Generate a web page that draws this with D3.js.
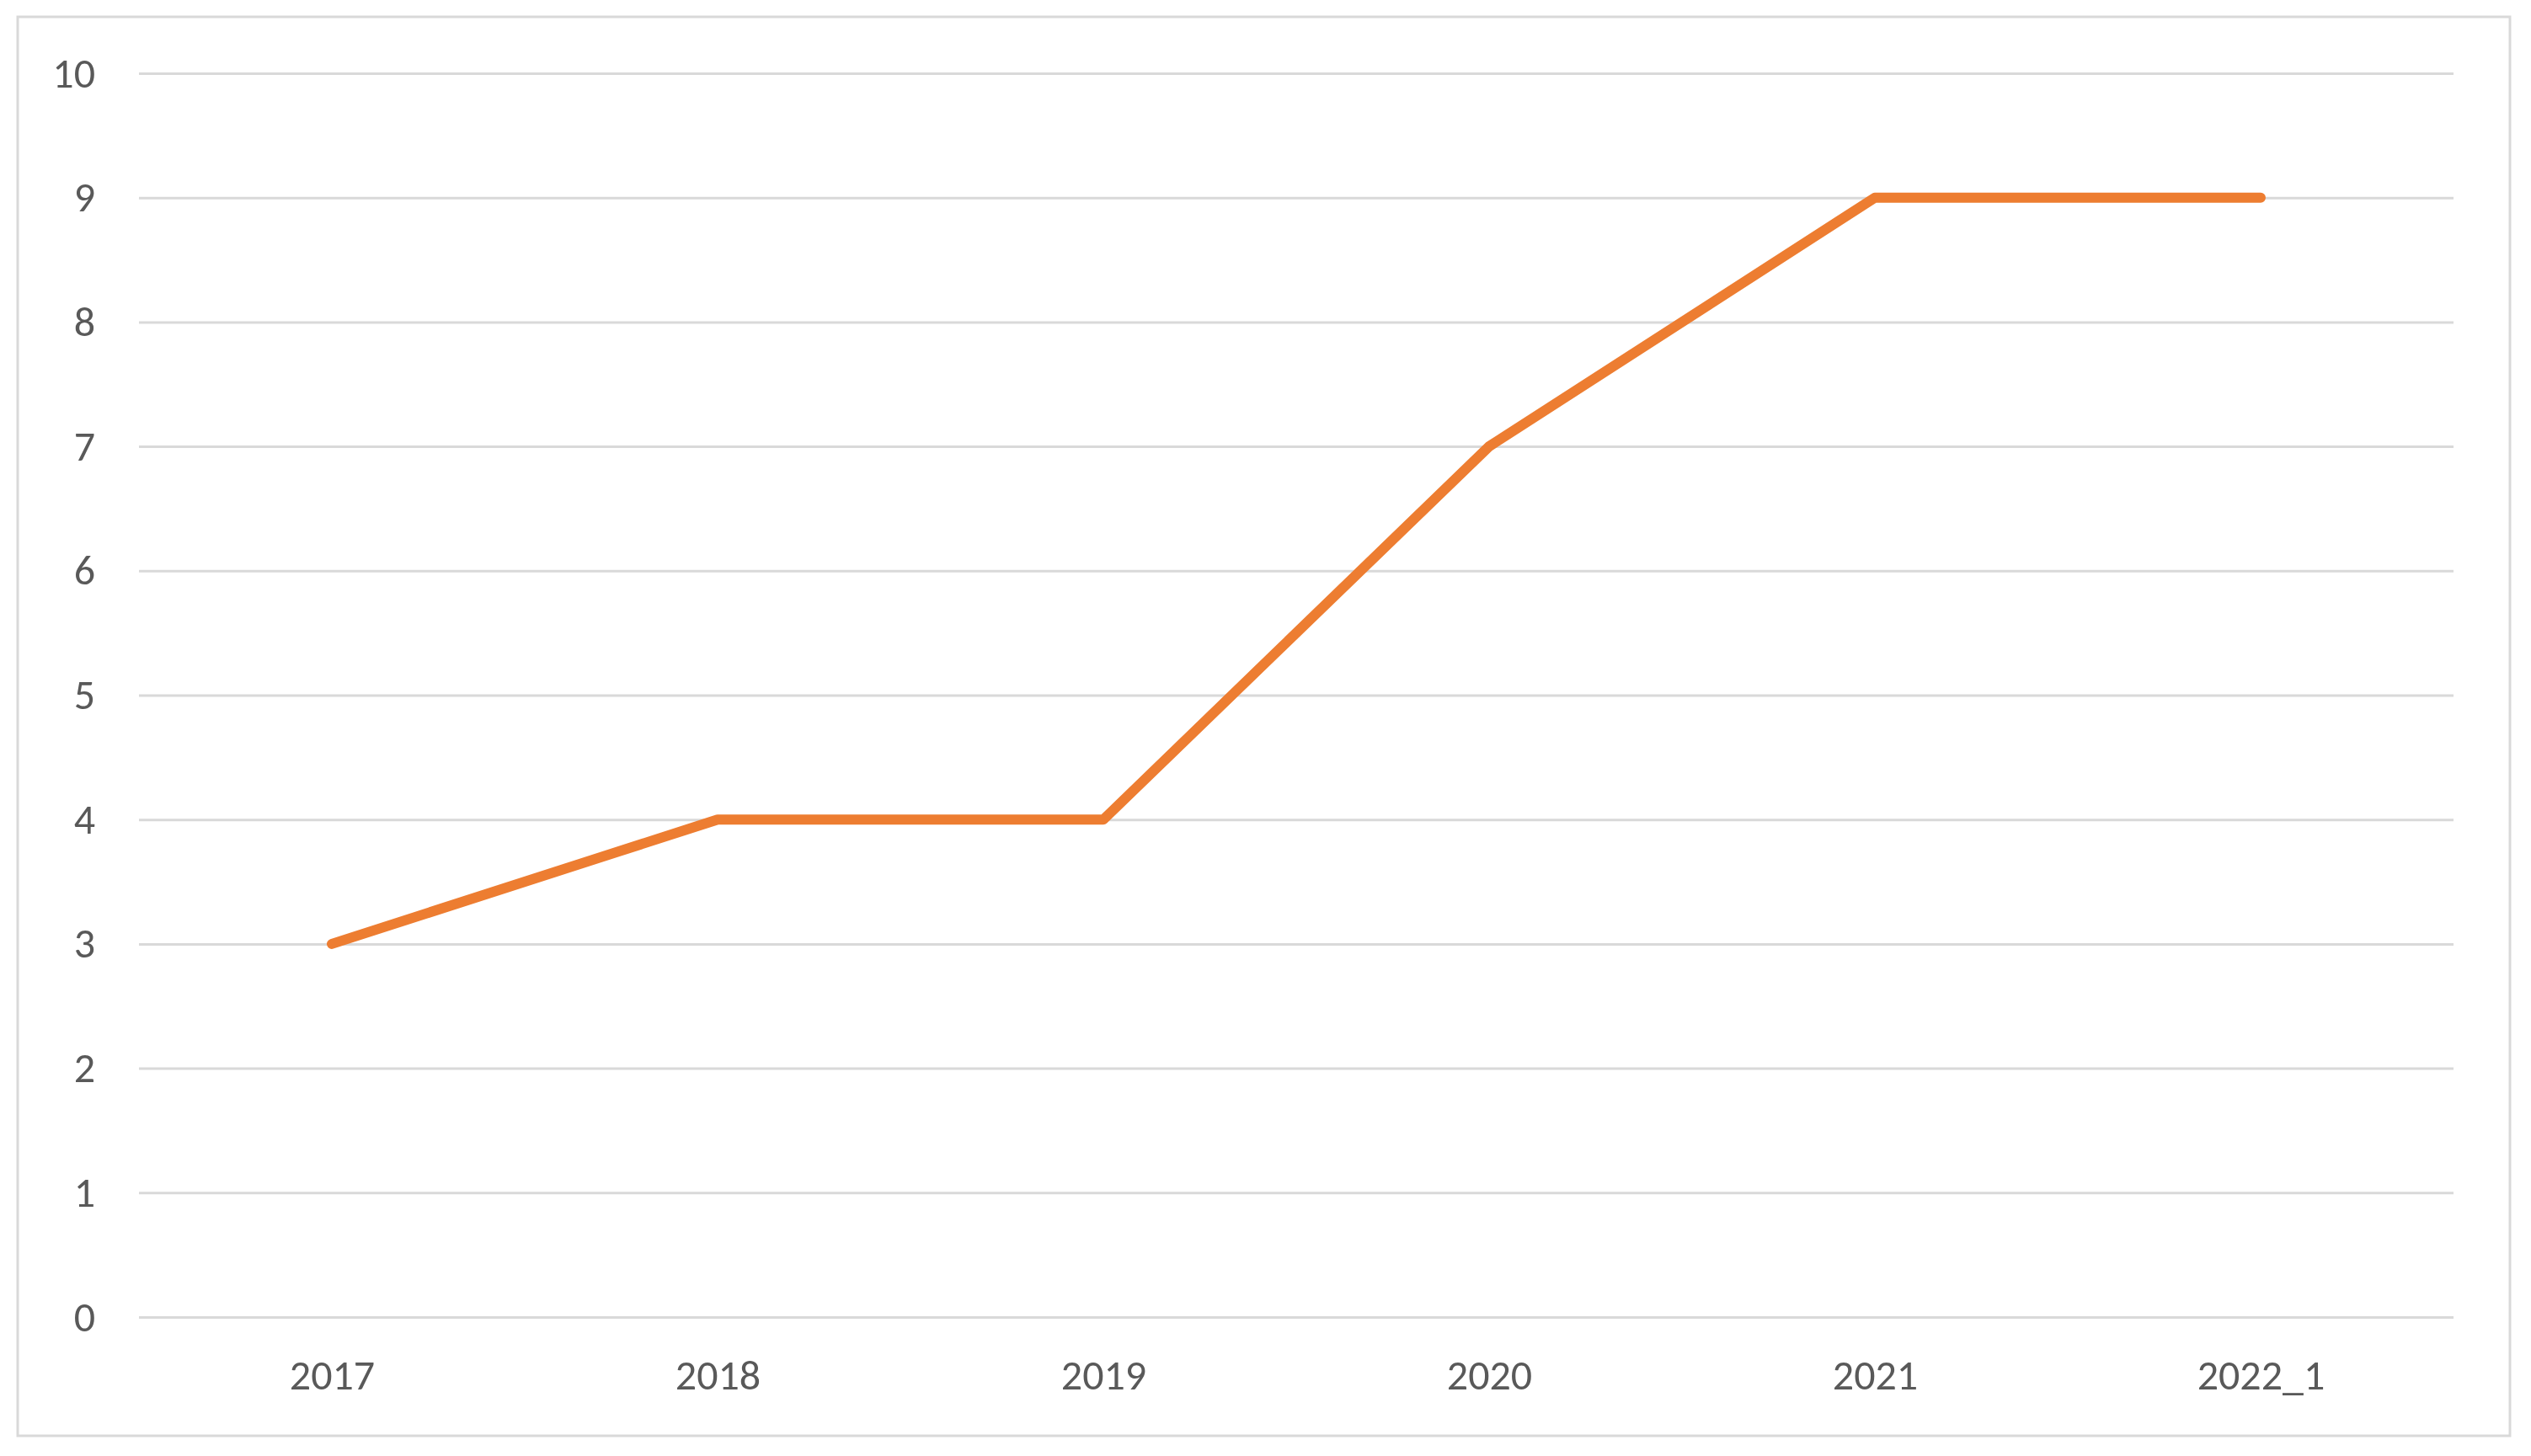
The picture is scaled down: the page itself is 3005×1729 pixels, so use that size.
<!DOCTYPE html>
<html lang="en">
<head>
<meta charset="UTF-8">
<title>Line Chart</title>
<script src="https://cdn.jsdelivr.net/npm/d3@7"></script>
<style>
  body { margin: 0; background: #fff; }
  text { font-family: Carlito, Lato, "Noto Sans", sans-serif; fill: #595959; }
</style>
</head>
<body>
<script>
const categories = ['2017', '2018', '2019', '2020', '2021', '2022_1']
const values = [3, 4, 4, 7, 9, 9]
const yTicks = [0, 1, 2, 3, 4, 5, 6, 7, 8, 9, 10]

const width = 3005
const height = 1729
const margin = { top: 87, right: 92, bottom: 165, left: 165 }

const svg = d3.select('body').append('svg')
    .attr('width', width)
    .attr('height', height)

svg.append('rect')
    .attr('x', 21).attr('y', 20)
    .attr('width', 2959).attr('height', 1685)
    .attr('fill', '#fff')
    .attr('stroke', '#d9d9d9')
    .attr('stroke-width', 3)

const xScale = d3.scalePoint()
    .domain(categories)
    .range([margin.left, width - margin.right])
    .padding(0.5)

const yScale = d3.scaleLinear()
    .domain([0, 10])
    .range([height - margin.bottom, margin.top])

const yAxis = d3.axisLeft(yScale)
    .tickValues(yTicks)
    .tickSize(-(width - margin.right - margin.left))
    .tickPadding(52)

svg.append('g')
    .attr('transform', `translate(${margin.left}, 0)`)
    .call(yAxis)
    .call(g => g.select('.domain').remove())
    .call(g => g.selectAll('line').attr('stroke', '#d9d9d9').attr('stroke-width', 3))
    .call(g => g.selectAll('text').attr('font-size', 50).style('fill', '#595959'))

const xAxis = d3.axisBottom(xScale).tickSize(0).tickPadding(50)

svg.append('g')
    .attr('transform', `translate(0, ${height - margin.bottom})`)
    .call(xAxis)
    .call(g => g.select('.domain').remove())
    .call(g => g.selectAll('text').attr('font-size', 50).style('fill', '#595959'))

const line = d3.line()
    .x((d, i) => xScale(categories[i]))
    .y(d => yScale(d))

svg.append('path')
    .datum(values)
    .attr('d', line)
    .attr('fill', 'none')
    .attr('stroke', '#ED7D31')
    .attr('stroke-width', 12)
    .attr('stroke-linecap', 'round')
    .attr('stroke-linejoin', 'round')
</script>
</body>
</html>
